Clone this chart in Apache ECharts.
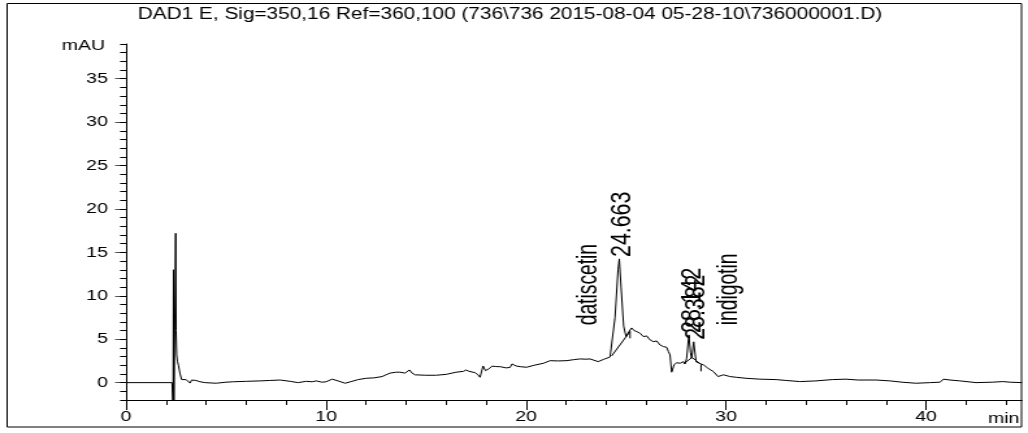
<!DOCTYPE html>
<html>
<head>
<meta charset="utf-8">
<script src="https://cdn.jsdelivr.net/npm/echarts@6/dist/echarts.min.js"></script>
<style>
  html, body { margin: 0; padding: 0; background: #fff; overflow: hidden; }
  /* ChemStation prints are stretched horizontally: draw narrower, then widen */
  #chart { width: 791px; height: 433px; transform: scaleX(1.2996); transform-origin: 0 0; }
</style>
</head>
<body>
<div id="chart"></div>
<script>
// DAD1 E chromatogram, 350 nm signal
const TITLE = 'DAD1 E, Sig=350,16 Ref=360,100 (736\\736 2015-08-04 05-28-10\\736000001.D)';

const retentionTime = [
  0, 2.30, 2.33, 2.35, 2.37, 2.39, 2.45, 2.48, 2.50, 2.53, 2.57, 2.62, 2.70, 2.78, 2.90, 3.00, 3.10, 3.20,
  3.28, 3.40, 3.50, 3.70, 3.95, 4.50, 5.00, 5.35, 6.00, 6.70, 7.20, 7.70, 8.20, 8.60, 9.00, 9.30, 9.50,
  9.80, 10.00, 10.30, 10.60, 10.95, 11.30, 11.60, 12.00, 12.40, 12.80, 13.00, 13.20, 13.50, 13.70, 13.95,
  14.17, 14.30, 14.45, 15.00, 15.50, 16.00, 16.05, 16.50, 16.87, 17.00, 17.15, 17.45, 17.60, 17.70, 17.85,
  17.97, 18.15, 18.30, 18.50, 18.70, 19.00, 19.20, 19.30, 19.50, 19.70, 20.03, 20.40, 20.87, 21.20, 21.60,
  22.03, 22.40, 22.70, 23.00, 23.20, 23.60, 23.90, 24.20, 24.28, 24.45, 24.60, 24.663, 24.75, 24.88, 25.00,
  25.15, 25.28, 25.40, 25.53, 25.70, 25.87, 26.03, 26.20, 26.37, 26.53, 26.70, 26.87, 27.03, 27.12, 27.20,
  27.28, 27.40, 27.53, 27.70, 27.87, 27.95, 28.03, 28.142, 28.22, 28.28, 28.382, 28.50, 28.70, 28.90, 29.10,
  29.37, 29.60, 29.87, 30.20, 30.50, 31.00, 31.70, 32.50, 33.00, 33.70, 34.50, 35.30, 36.00, 36.60, 37.50,
  38.20, 38.80, 39.50, 40.20, 40.70, 40.87, 41.20, 41.70, 42.50, 43.30, 43.85, 44.20, 44.80
];

const signal = [
  0, 0, -0.1, -3, 13.0, -3, -3, 17.2, 6.0, 3.2, 2.4, 2.0, 1.0, 0.35, 0.2, 0.35, 0.2, -0.05,
  0.3, 0.4, 0.25, 0.1, 0.0, -0.07, 0.05, 0.1, 0.15, 0.2, 0.25, 0.3, 0.15, 0.0, 0.15, 0.1, 0.2,
  0.05, 0.1, 0.4, 0.2, -0.07, 0.15, 0.35, 0.5, 0.55, 0.7, 0.9, 1.1, 1.2, 1.2, 1.1,
  1.46, 1.1, 0.9, 0.85, 0.85, 0.95, 1.15, 1.2, 1.3, 1.46, 1.3, 1.15, 0.9, 0.62, 1.92,
  1.38, 1.6, 1.9, 1.85, 1.84, 1.7, 1.75, 2.15, 1.92, 1.84, 1.77, 2.0, 2.23, 2.53, 2.5,
  2.53, 2.65, 2.73, 2.7, 2.73, 2.42, 2.7, 2.95, 3.07, 7.5, 13.0, 14.25, 11.0, 6.5, 5.3,
  5.9, 6.3, 6.0, 5.88, 5.69, 5.3, 5.38, 4.92, 4.72, 4.8, 4.34, 4.15, 4.07, 3.57, 3.19,
  1.2, 2.04, 2.3, 2.23, 2.42, 2.15, 2.8, 5.5, 3.5, 2.8, 4.7, 2.4, 2.2, 2.0, 1.65,
  1.27, 0.7, 0.9, 0.7, 0.62, 0.5, 0.4, 0.35, 0.25, 0.12, 0.2, 0.35, 0.4, 0.3, 0.3,
  0.2, 0.05, -0.07, 0.0, 0.05, 0.4, 0.3, 0.2, 0.0, 0.05, 0.12, 0.05, 0.0
];

// integrated peaks (retention times printed above each apex)
const peakTimes = [24.663, 28.142, 28.382];

// named compounds and the times their names are printed at
const compoundNames = ['datiscetin', 'indigotin'];
const compoundTimes = [23.15, 30.15];
const compoundLevel = 6.6;

// integration baselines, [time, mAU] pairs
const baselineSegments = [
  [[24.28, 3.07], [25.20, 5.90]],
  [[27.87, 2.15], [28.30, 2.90]],
  [[28.30, 2.90], [28.75, 2.10]]
];
// peak-end tick marks
const peakEndMarks = [[25.20, 5.90], [28.75, 2.10]];
const markDrop = 0.8;

const yLabelValues = [0, 5, 10, 15, 20, 25, 30, 35];
const yMinorValues = [];
for (let v = -2; v <= 39; v++) yMinorValues.push(v);
const xLabelValues = [0, 10, 20, 30, 40];
const xMinorValues = [];
for (let v = 0; v <= 44; v += 2) xMinorValues.push(v);

const FONT = "'Liberation Sans', Arial, sans-serif";
const CONDENSE = 0.82;   // narrow face for the rotated annotations
const X_MIN = 0, X_MAX = 44.8, Y_MIN = -2, Y_MAX = 39;

const chart = echarts.init(document.getElementById('chart'), null, { renderer: 'canvas', width: 791, height: 433 });

const traceData = retentionTime.map((t, i) => [t, signal[i]]);

const series = [{
  name: 'DAD1 E',
  type: 'line',
  data: traceData,
  showSymbol: false,
  symbol: 'none',
  lineStyle: { color: '#000', width: 1 },
  clip: true,
  silent: true,
  animation: false,
  z: 3
}];
baselineSegments.forEach((seg) => {
  series.push({ type: 'line', data: seg, showSymbol: false, symbol: 'none',
    lineStyle: { color: '#000', width: 1 }, silent: true, animation: false, z: 3 });
});
peakEndMarks.forEach(([t, v]) => {
  series.push({ type: 'line', data: [[t, v], [t, v - markDrop]], showSymbol: false, symbol: 'none',
    lineStyle: { color: '#000', width: 1 }, silent: true, animation: false, z: 3 });
});

const labelText = { fontFamily: FONT, fontSize: 15, color: '#000' };

chart.setOption({
  animation: false,
  backgroundColor: '#fff',
  title: {
    text: TITLE, left: 392.4, top: 7, textAlign: 'center', padding: 0,
    textStyle: { fontFamily: FONT, fontSize: 16, fontWeight: 'normal', color: '#000' }
  },
  grid: { left: 97, right: 4.6, top: 44, bottom: 33, containLabel: false, outerBoundsMode: 'none' },
  xAxis: [{
    type: 'value', min: X_MIN, max: X_MAX, position: 'bottom',
    axisLine: { show: true, onZero: false, lineStyle: { color: '#000', width: 1 } },
    axisTick: { show: true, customValues: xLabelValues, length: 10, lineStyle: { color: '#000' } },
    axisLabel: { show: true, customValues: xLabelValues, margin: 9, ...labelText },
    splitLine: { show: false }
  }, {
    type: 'value', min: X_MIN, max: X_MAX, position: 'bottom',
    axisLine: { show: false, onZero: false },
    axisTick: { show: true, customValues: xMinorValues, length: 5, lineStyle: { color: '#000' } },
    axisLabel: { show: false },
    splitLine: { show: false }
  }],
  yAxis: [{
    type: 'value', min: Y_MIN, max: Y_MAX, position: 'left',
    axisLine: { show: true, onZero: false, lineStyle: { color: '#000', width: 1 } },
    axisTick: { show: true, customValues: yLabelValues, length: 8.5, lineStyle: { color: '#555' } },
    axisLabel: { show: true, customValues: yLabelValues, margin: 14, ...labelText },
    splitLine: { show: false }
  }, {
    type: 'value', min: Y_MIN, max: Y_MAX, position: 'left',
    axisLine: { show: false, onZero: false },
    axisTick: { show: true, customValues: yMinorValues, length: 4.6, lineStyle: { color: '#000' } },
    axisLabel: { show: false },
    splitLine: { show: false }
  }],
  series: series
});

// rotated labels: time stamps over the peaks and compound names, placed through the axes
const toPx = (t, v) => chart.convertToPixel({ xAxisIndex: 0, yAxisIndex: 0 }, [t, v]);
const graphics = [];

peakTimes.forEach((rt) => {
  const i = retentionTime.indexOf(rt);
  const [px, py] = toPx(rt, signal[i]);
  graphics.push({
    type: 'text', x: px + 2.5, y: py - 2, rotation: Math.PI / 2, scaleX: CONDENSE, scaleY: 0.85,
    style: { text: rt.toFixed(3), fontFamily: FONT, fontSize: 26, fill: '#000', align: 'left', verticalAlign: 'middle' },
    silent: true, z: 10
  });
});
compoundNames.forEach((name, k) => {
  const [px, py] = toPx(compoundTimes[k], compoundLevel);
  graphics.push({
    type: 'text', x: px, y: py, rotation: Math.PI / 2, scaleX: CONDENSE, scaleY: 0.95,
    style: { text: name, fontFamily: FONT, fontSize: 23.5, fill: '#000', align: 'left', verticalAlign: 'middle' },
    silent: true, z: 10
  });
});

// unit and axis name
const [, topPx] = toPx(0, Y_MAX);
const [axisRightPx, axisBottomPx] = toPx(X_MAX, Y_MIN);
graphics.push({
  type: 'text', x: 47.5, y: topPx + 2, silent: true, z: 10,
  style: { text: 'mAU', fontFamily: FONT, fontSize: 15, fill: '#000', align: 'left', verticalAlign: 'middle' }
});
graphics.push({
  type: 'text', x: axisRightPx - 2, y: axisBottomPx + 18.5, silent: true, z: 10,
  style: { text: 'min', fontFamily: FONT, fontSize: 15, fill: '#000', align: 'right', verticalAlign: 'middle' }
});
// page frame
graphics.push({
  type: 'rect', silent: true, z: 0,
  shape: { x: 5.5, y: 3.5, width: 780.5, height: 423.5 },
  style: { fill: 'none', stroke: '#000', lineWidth: 1 }
});

chart.setOption({ graphic: graphics });
</script>
</body>
</html>
